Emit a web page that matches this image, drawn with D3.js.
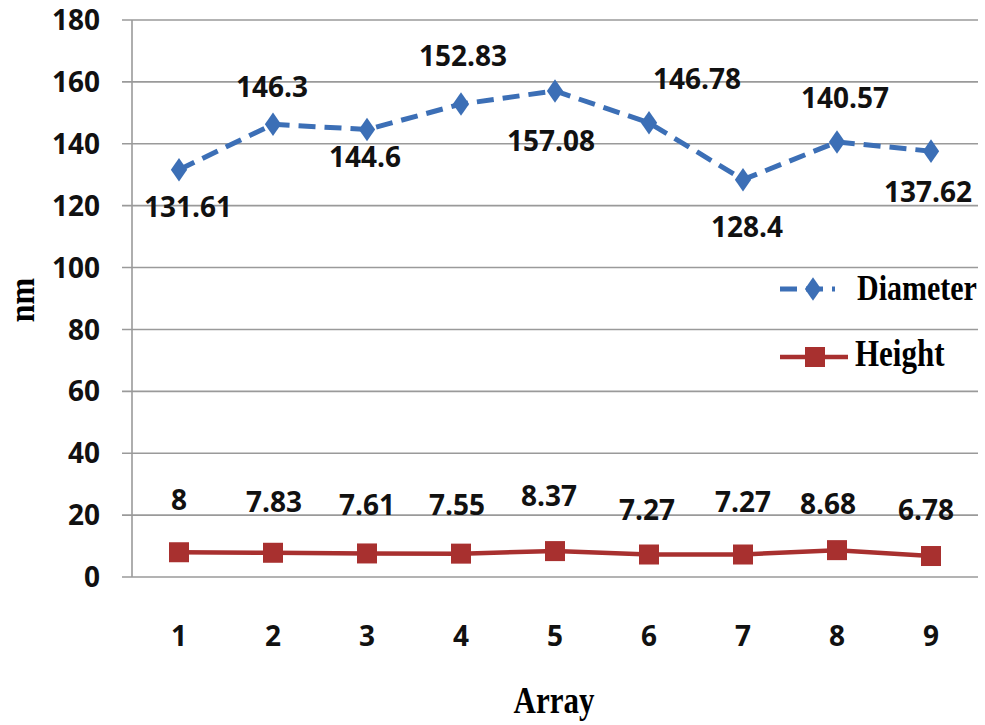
<!DOCTYPE html>
<html><head><meta charset="utf-8">
<script src="https://cdn.jsdelivr.net/npm/d3@7"></script>
<style>body{margin:0;background:#fff}</style>
</head><body>
<svg id="c" width="985" height="725"></svg>
<script>
const categories = ["1","2","3","4","5","6","7","8","9"];
const diameter = [131.61,146.3,144.6,152.83,157.08,146.78,128.4,140.57,137.62];
const heightVals = [8,7.83,7.61,7.55,8.37,7.27,7.27,8.68,6.78];
const yTicks = [0,20,40,60,80,100,120,140,160,180];
const diamLabels = ["131.61","146.3","144.6","152.83","157.08","146.78","128.4","140.57","137.62"];
const heightLabels = ["8","7.83","7.61","7.55","8.37","7.27","7.27","8.68","6.78"];
const seriesNames = ["Diameter","Height"];

// label placement offsets (layout, px)
const diamLabelDx = [9,-1,-2,2,-4,48,4,8,-3];
const diamLabelDy = [37,-37,27,-48,50,-44,47,-44,41];
const heightLabelDx = [0,1,0,-4,-6,-2,0,-9,-5];
const heightLabelDy = [-52,-51,-49,-49,-55,-45,-53,-46,-46];

const svg = d3.select("#c");
const L = 132, R = 978, T = 20, B = 577;
const x = d3.scaleBand().domain(categories).range([L, R]);
const y = d3.scaleLinear().domain([0,180]).range([B, T]);
const cx = d => x(d) + x.bandwidth()/2;

const blue = "#3c6fb6", red = "#a8302f", grid = "#9a9a9a";
const sans = "'Open Sans', sans-serif", serif = "'Liberation Serif', 'Times New Roman', serif";

svg.append("g").selectAll("line").data(yTicks).join("line")
  .attr("x1", L-10).attr("x2", R).attr("y1", d=>y(d)).attr("y2", d=>y(d))
  .attr("stroke", grid).attr("stroke-width", 1.6);
svg.append("line").attr("x1", L).attr("x2", L).attr("y1", T).attr("y2", B)
  .attr("stroke", grid).attr("stroke-width", 1.6);

svg.append("g").selectAll("text").data(yTicks).join("text")
  .attr("x", 100).attr("y", d=>y(d)).attr("dy", "0.36em")
  .attr("text-anchor","end").attr("font-family", sans).attr("font-weight", 700)
  .attr("font-size", 28).attr("fill","#111").text(d=>d);

svg.append("g").selectAll("text").data(categories).join("text")
  .attr("x", d=>cx(d)).attr("y", 636).attr("dy","0.36em")
  .attr("text-anchor","middle").attr("font-family", sans).attr("font-weight",700)
  .attr("font-size", 28).attr("fill","#111").text(d=>d);

function stext(tx, ty, str, size, anchor, rot, sy){
  const g = svg.append("g").attr("transform", `translate(${tx},${ty})` + (rot?` rotate(${rot})`:"") + ` scale(1,${sy||1.2})`);
  g.append("text").attr("text-anchor", anchor).attr("font-family", serif)
    .attr("font-weight",700).attr("font-size", size).attr("fill","#000").text(str);
}
stext(554, 713, "Array", 31, "middle");
stext(34, 300, "nm", 32, "middle", -90, 1.1);

const line = d3.line().x(d=>cx(d.c)).y(d=>y(d.v));
const dData = categories.map((c,i)=>({c, v: diameter[i], i}));
const hData = categories.map((c,i)=>({c, v: heightVals[i], i}));

svg.append("path").datum(dData).attr("d", line).attr("fill","none")
  .attr("stroke", blue).attr("stroke-width", 5).attr("stroke-dasharray","17,9");
svg.append("g").selectAll("path").data(dData).join("path")
  .attr("transform", d=>`translate(${cx(d.c)},${y(d.v)}) scale(1.2,1)`)
  .attr("d", d3.symbol().type(d3.symbolDiamond).size(160)).attr("fill", blue);

svg.append("path").datum(hData).attr("d", line).attr("fill","none")
  .attr("stroke", red).attr("stroke-width", 4.5);
svg.append("g").selectAll("rect").data(hData).join("rect")
  .attr("x", d=>cx(d.c)-10).attr("y", d=>y(d.v)-10).attr("width",20).attr("height",20)
  .attr("fill", red);

svg.append("g").selectAll("text").data(dData).join("text")
  .attr("x", d=>cx(d.c)+diamLabelDx[d.i]).attr("y", d=>y(d.v)+diamLabelDy[d.i]).attr("dy","0.36em")
  .attr("text-anchor","middle").attr("font-family", sans).attr("font-weight",700)
  .attr("font-size",28).attr("fill","#111").text(d=>diamLabels[d.i]);
svg.append("g").selectAll("text").data(hData).join("text")
  .attr("x", d=>cx(d.c)+heightLabelDx[d.i]).attr("y", d=>y(d.v)+heightLabelDy[d.i]).attr("dy","0.36em")
  .attr("text-anchor","middle").attr("font-family", sans).attr("font-weight",700)
  .attr("font-size",28).attr("fill","#111").text(d=>heightLabels[d.i]);

const lg = svg.append("g");
lg.append("line").attr("x1",780).attr("x2",835).attr("y1",289).attr("y2",289)
  .attr("stroke", blue).attr("stroke-width",5).attr("stroke-dasharray","17,9");
lg.append("path").attr("transform","translate(813,289) scale(1.2,1)")
  .attr("d", d3.symbol().type(d3.symbolDiamond).size(160)).attr("fill", blue);
lg.append("line").attr("x1",780).attr("x2",848).attr("y1",357).attr("y2",357)
  .attr("stroke", red).attr("stroke-width",4.5);
lg.append("rect").attr("x",805).attr("y",347).attr("width",20).attr("height",20).attr("fill",red);
stext(857, 300, seriesNames[0], 30, "start");
stext(855, 366, seriesNames[1], 31, "start");
</script>
</body></html>
